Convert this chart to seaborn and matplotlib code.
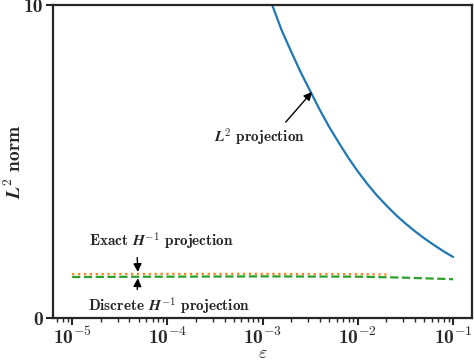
import matplotlib
matplotlib.use("Agg")
import matplotlib.pyplot as plt
import seaborn as sns

# values
eps_l2 = [1e-3, 1.26e-3, 1.58e-3, 2.0e-3, 2.51e-3, 3.16e-3, 3.98e-3, 5.01e-3, 6.31e-3,
          7.94e-3, 1e-2, 1.26e-2, 1.58e-2, 2.0e-2, 2.51e-2, 3.16e-2, 3.98e-2, 5.01e-2,
          6.31e-2, 7.94e-2, 1e-1]
l2_norm = [10.9, 10.0, 9.2, 8.5, 7.85, 7.25, 6.65, 6.1, 5.6,
           5.12, 4.68, 4.28, 3.92, 3.59, 3.29, 3.02, 2.77, 2.54,
           2.33, 2.13, 1.95]

eps_exact = [1e-5, 1e-4, 1e-3, 1e-2, 2.2e-2]
exact_h1 = [1.40, 1.41, 1.41, 1.40, 1.39]

eps_disc = [1e-5, 1e-4, 1e-3, 1e-2, 3e-2, 1e-1]
disc_h1 = [1.31, 1.32, 1.33, 1.32, 1.29, 1.24]

x_ticks = [1e-5, 1e-4, 1e-3, 1e-2, 1e-1]
x_labels = [r"10$^{\mathbf{-5}}$", r"10$^{\mathbf{-4}}$", r"10$^{\mathbf{-3}}$",
            r"10$^{\mathbf{-2}}$", r"10$^{\mathbf{-1}}$"]
y_ticks = [0, 10]
y_labels = ["0", "10"]

sns.set_style("ticks")
plt.rcParams["font.family"] = ["cmb10", "DejaVu Serif"]
plt.rcParams["mathtext.fontset"] = "cm"

fig = plt.figure(figsize=(4.74, 3.62), dpi=100)
ax = fig.add_axes([0.112, 0.1215, 0.884, 0.865])

sns.lineplot(x=eps_l2, y=l2_norm, ax=ax, color="#1f77b4", lw=1.6)
sns.lineplot(x=eps_exact, y=exact_h1, ax=ax, color="#ff7f0e", lw=1.6, linestyle=":")
sns.lineplot(x=eps_disc, y=disc_h1, ax=ax, color="#2ca02c", lw=1.6, linestyle="--")

ax.set_xscale("log")
ax.set_xlim(10 ** -5.2, 10 ** -0.8)
ax.set_ylim(0, 10)
ax.set_xticks(x_ticks)
ax.set_xticklabels(x_labels)
ax.set_yticks(y_ticks)
ax.set_yticklabels(y_labels)
ax.tick_params(labelsize=14, width=1.5, length=5, pad=2)
ax.tick_params(axis="x", pad=1)
ax.tick_params(which="minor", width=1, length=3)
for s in ax.spines.values():
    s.set_linewidth(1.6)

ax.set_xlabel(r"$\varepsilon$", fontsize=13)
ax.xaxis.set_label_coords(0.5, -0.09)
ax.set_ylabel(r"$\boldsymbol{L}^\mathbf{2}$ norm", fontsize=14)
ax.yaxis.set_label_coords(-0.068, 0.5)

arrow = dict(arrowstyle="-|>", color="black", lw=1, mutation_scale=12)
ax.annotate(r"$\boldsymbol{L}^\mathbf{2}$ projection", xy=(3.3e-3, 7.22), xytext=(9.2e-4, 5.78),
            ha="center", va="center", fontsize=11,
            arrowprops=dict(arrow, relpos=(0.75, 1.0), shrinkA=1, shrinkB=0))
ax.annotate(r"Exact $\boldsymbol{H}^{\mathbf{-1}}$ projection", xy=(4.9e-5, 1.47),
            xytext=(8.7e-5, 2.46), ha="center", va="center", fontsize=11,
            arrowprops=dict(arrow, relpos=(0.33, 0.0), shrinkA=2, shrinkB=0))
ax.annotate(r"Discrete $\boldsymbol{H}^{\mathbf{-1}}$ projection", xy=(4.9e-5, 1.27),
            xytext=(1.05e-4, 0.38), ha="center", va="center", fontsize=11,
            arrowprops=dict(arrow, relpos=(0.3, 1.0), shrinkA=2, shrinkB=0))

fig.savefig("out.png", dpi=100)
